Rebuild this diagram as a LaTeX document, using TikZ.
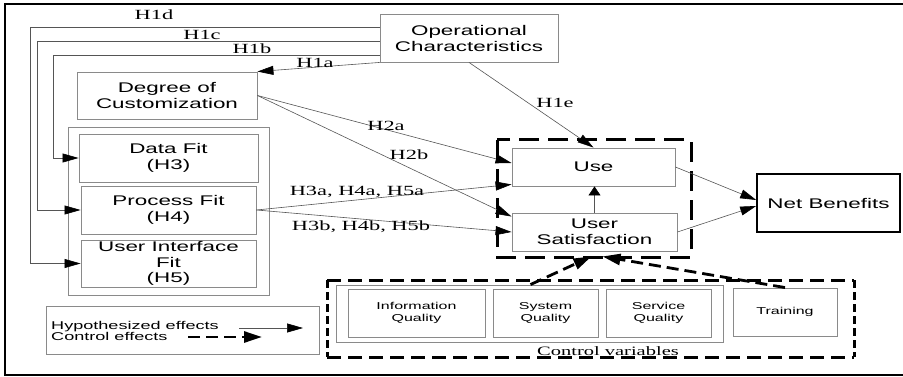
\documentclass[tikz,border=0pt]{standalone}
\usepackage{fontspec}
\newfontfamily\boxfont[FakeStretch=1.6]{Liberation Sans}
\newfontfamily\labfont[FakeStretch=1.6]{Liberation Serif}
\usetikzlibrary{arrows.meta,calc}
\definecolor{boxgray}{HTML}{8A8A8A}
\definecolor{linegray}{HTML}{555555}

\begin{document}
\begin{tikzpicture}[x=1pt,y=-1pt,
  box/.style={draw=boxgray, line width=0.9pt, inner sep=0pt, align=center,
              font=\boxfont\fontsize{14}{16}\selectfont, text=black},
  smallbox/.style={box, font=\boxfont\fontsize{10}{12}\selectfont},
  lab/.style={inner sep=0pt, font=\labfont\fontsize{14}{15}\selectfont},
  conn/.style={draw=linegray, line width=0.6pt,
               -{Triangle[length=16pt,width=9pt,color=black]}},
  vconn/.style={draw=linegray, line width=0.6pt,
               -{Triangle[length=9pt,width=12pt,color=black]}},
  ctrlarrow/.style={draw=black, line width=2.8pt, dash pattern=on 12pt off 6pt,
               -{Triangle[length=18pt,width=11pt]}},
  dashline/.style={draw=black, line width=3pt},
]
\useasboundingbox (0,0) rectangle (903,377);

% outer frame
\draw[line width=1.5pt] (903,4) -- (5,4) -- (5,375) -- (903,375);

% boxes
\node[box, minimum width=178pt, minimum height=48pt] (op) at (469,38) {Operational\\Characteristics};
\node[box, minimum width=180pt, minimum height=47pt] (deg) at (167,95.5) {Degree of\\Customization};
\node[box, minimum width=201pt, minimum height=168pt] (fits) at (168.5,211) {};
\node[box, minimum width=179pt, minimum height=48pt] (data) at (168.5,158) {Data Fit\\(H3)};
\node[box, minimum width=175pt, minimum height=48pt] (proc) at (168.5,210) {Process Fit\\(H4)};
\node[box, minimum width=175pt, minimum height=47pt, font=\boxfont\fontsize{14}{15.5}\selectfont] (ui) at (168.5,263.5) {User Interface\\Fit\\(H5)};
\node[box, minimum width=163pt, minimum height=38pt] (use) at (593.5,167) {Use};
\node[box, minimum width=165pt, minimum height=38pt] (us) at (594.5,232) {User\\Satisfaction};
\node[box, draw=black, line width=1.6pt, minimum width=143pt, minimum height=58pt] (nb) at (828.5,203) {Net Benefits};

% control variables
\node[box, minimum width=387pt, minimum height=57pt] (ctrlin) at (529.5,313.5) {};
\node[smallbox, minimum width=137pt, minimum height=48pt] (info) at (416.5,313) {Information\\Quality};
\node[smallbox, minimum width=105pt, minimum height=48pt] (sys) at (545.5,313) {System\\Quality};
\node[smallbox, minimum width=105pt, minimum height=48pt] (serv) at (658.5,313) {Service\\Quality};
\node[smallbox, minimum width=104pt, minimum height=48pt] (train) at (785,312) {Training};

% dashed groupings
\coordinate (ua) at (497,140);
\coordinate (ub) at (691,257);
\draw[dashline, dash pattern=on 20pt off 9pt] (ua) rectangle (ub);
\coordinate (ca) at (327,280);
\coordinate (cb) at (854,357);
\draw[dashline, dash pattern=on 14pt off 7pt] (ca) -- (ca -| cb) (ca |- cb) -- (cb);
\draw[dashline, dash pattern=on 8pt off 4pt] (ca) -- (ca |- cb) (ca -| cb) -- (cb);
\node[lab, font=\labfont\fontsize{12.8}{14}\selectfont, anchor=base] (cvlab) at (608,355) {Control variables};

% legend
\node[box, minimum width=273pt, minimum height=48pt] (legend) at (182.5,330) {};
\node[inner sep=0pt, anchor=west, align=left, font=\boxfont\fontsize{11.3}{11.5}\selectfont] (legtext) at (51,331) {Hypothesized effects\\Control effects};
\coordinate (hs) at (239,328);
\coordinate (he) at (303,328);
\draw[conn] (hs) -- (he);
\coordinate (cs) at (188,337);
\coordinate (ce) at (262,337);
\draw[ctrlarrow] (cs) -- (ce);

% H1 paths from operational characteristics
\coordinate (xd) at (30,0);
\coordinate (xc) at (37,0);
\coordinate (xb) at (53,0);
\draw[conn] ([yshift=11pt]op.west) -| (xd |- ui.west) -- (ui.west);
\draw[conn] ([yshift=-3pt]op.west) -| (xc |- proc.west) -- (proc.west);
\draw[conn] ([yshift=-17pt]op.west) -| (xb |- data.west) -- (data.west);
\draw[conn] (op.south west) -- (deg.north east);
\draw[conn] (op.south) -- (use.north);

% H2
\draw[conn] (deg.east) -- ([yshift=4pt]use.west);
\draw[conn] (deg.east) -- ([yshift=-4pt]us.north west);

% H3-H5
\draw[conn] (proc.east) -- ([yshift=2pt]use.south west);
\draw[conn] (proc.east) -- (us.west);

% to net benefits
\draw[conn] (use.east) -- ([yshift=3pt]nb.west);
\draw[conn] (us.east) -- ([yshift=-3pt]nb.west);
\draw[vconn] (us.north) -- (us.north |- use.south);

% control effects
\draw[ctrlarrow] ([xshift=-15pt,yshift=4pt]sys.north) -- ([xshift=-3pt,yshift=-5pt]us.south);
\draw[ctrlarrow] (train.north) -- ([xshift=8pt,yshift=-5pt]us.south);

% labels
\node[lab] (l1d) at (154,15) {H1d};
\node[lab] (l1c) at (202,35) {H1c};
\node[lab] (l1b) at (252,49) {H1b};
\node[lab] (l1a) at (315,63) {H1a};
\node[lab] (l1e) at (555,103) {H1e};
\node[lab] (l2a) at (386,126) {H2a};
\node[lab] (l2b) at (409,155) {H2b};
\node[lab] (l3a) at (357,192) {H3a, H4a, H5a};
\node[lab] (l3b) at (361,227) {H3b, H4b, H5b};
\end{tikzpicture}
\end{document}
